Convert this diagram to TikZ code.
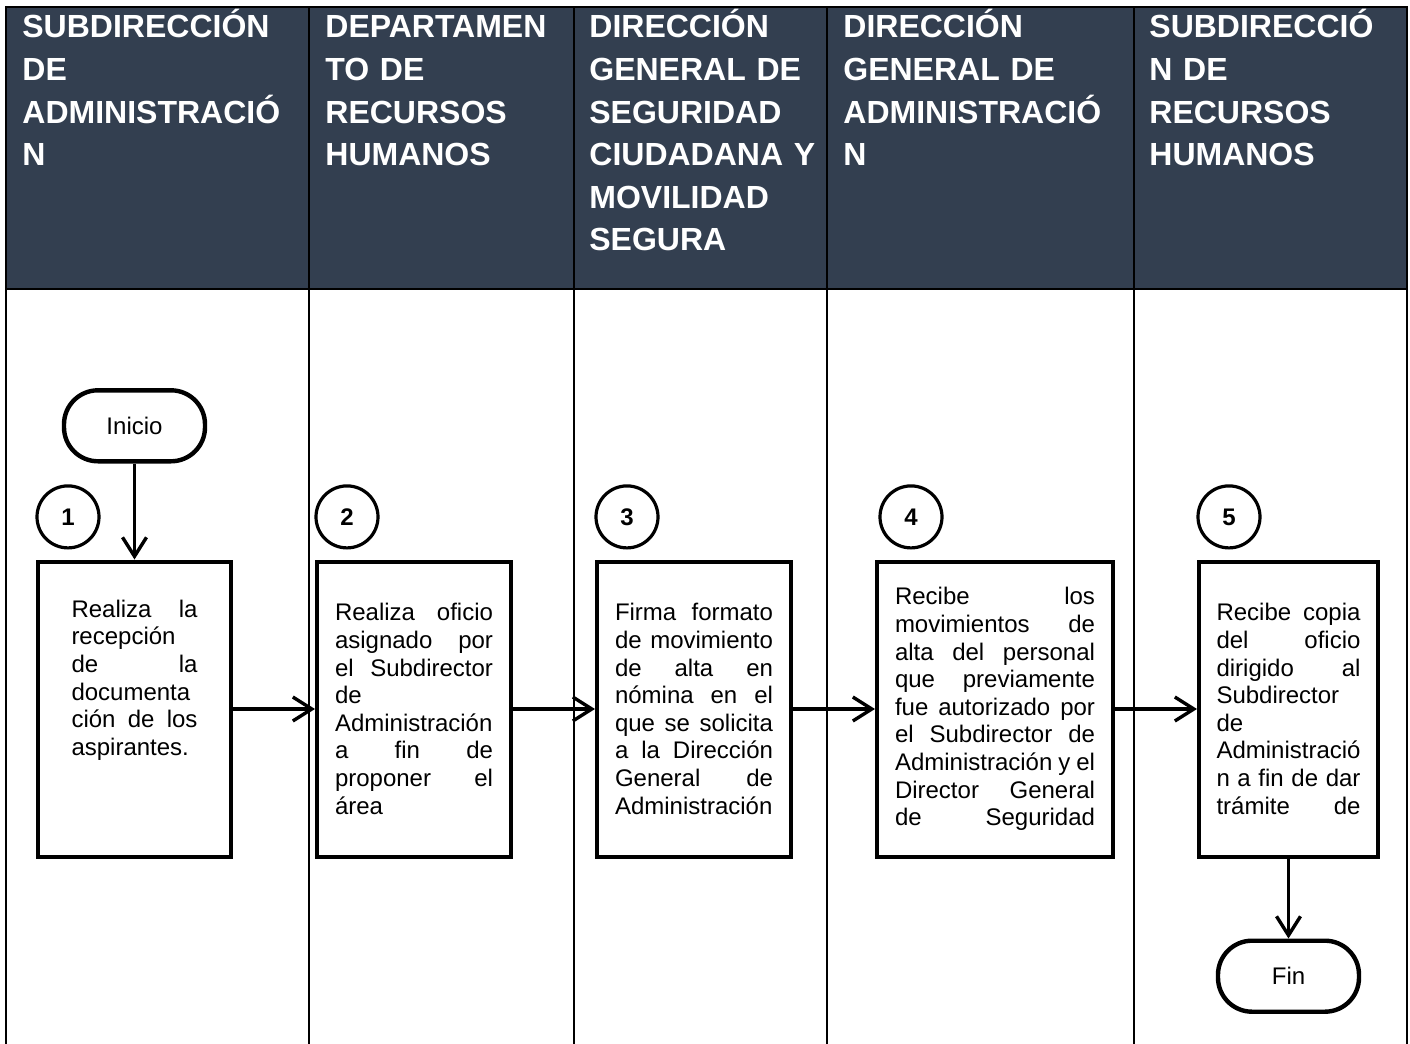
\documentclass[tikz,border=0pt]{standalone}
\usepackage{fontspec}
\setmainfont{Liberation Sans}
\usetikzlibrary{arrows.meta, positioning}
\definecolor{headBlue}{RGB}{51,63,80}
% one justified line / one plain line of a box text
\newcommand\jline[1]{\leavevmode\hbox to\hsize{\spaceskip=.278em plus 1fil minus .06em\relax#1}\par}
\newcommand\pline[1]{\leavevmode\hbox{#1}\par}

\begin{document}
\begin{tikzpicture}[
    x=0.5pt, y=-0.5pt,
    node distance=41pt,
    lane/.style={line width=1pt},
    lanehead/.style={anchor=base west, text width=#1, align=left, inner sep=0pt, text=white, font=\fontsize{16}{21.3}\selectfont\bfseries},
    stepbox/.style n args={2}{rectangle, draw, line width=2pt, minimum width=#1, text width=#2, minimum height=147.5pt, inner sep=0pt, font=\fontsize{12}{13.8}\selectfont},
    endbox/.style={rectangle, draw, line width=2.2pt, rounded corners=17pt, minimum width=70.5pt, minimum height=35.5pt, font=\fontsize{12}{14}\selectfont},
    numcirc/.style={circle, draw, line width=1.6pt, minimum size=31pt, inner sep=0pt, font=\fontsize{12}{14}\selectfont\bfseries},
    flow/.style={line width=1.7pt, -{Straight Barb[length=9.5pt,width=12pt]}}
]
\useasboundingbox (0,0) rectangle (1410,1044);

% lanes
\fill[headBlue] (6,7) rectangle (1407,289);
\draw[lane] (6,1044) -- (6,7) -- (1407,7) -- (1407,1044);
\draw[lane] (6,289) -- (1407,289);
\foreach \x in {309,574,827,1134}
    \draw[lane] (\x,7) -- (\x,1044);

\node[lanehead=135pt] (h1) at (22,38) {SUBDIRECCIÓN\\DE\\ADMINISTRACIÓ\\N};
\node[lanehead=118pt] (h2) at (325,38) {DEPARTAMEN\\TO DE\\RECURSOS\\HUMANOS};
\node[lanehead=118pt] (h3) at (589,38) {DIRECCIÓN\\GENERAL DE\\SEGURIDAD\\CIUDADANA Y\\MOVILIDAD\\SEGURA};
\node[lanehead=135pt] (h4) at (843,38) {DIRECCIÓN\\GENERAL DE\\ADMINISTRACIÓ\\N};
\node[lanehead=125pt] (h5) at (1149,38) {SUBDIRECCIÓ\\N DE\\RECURSOS\\HUMANOS};

% steps
\node[stepbox={96.5pt}{63pt}] (b1) at (134.5,709) {%
    \jline{Realiza la}\jline{recepción}\jline{de la}\jline{documenta}%
    \jline{ción de los}\pline{aspirantes.}\pline{\rule{0pt}{28pt}}};
\node[stepbox={97pt}{79pt}, right=of b1] (b2) {%
    \jline{Realiza oficio}\jline{asignado por}\jline{el Subdirector}\jline{de}%
    \jline{Administración}\jline{a fin de}\jline{proponer el}\pline{área}};
\node[stepbox={97pt}{79pt}, right=of b2] (b3) {%
    \jline{Firma formato}\jline{de movimiento}\jline{de alta en}\jline{nómina en el}%
    \jline{que se solicita}\jline{a la Dirección}\jline{General de}\pline{Administración}};
\node[stepbox={118pt}{100pt}, right=of b3] (b4) {%
    \jline{Recibe los}\jline{movimientos de}\jline{alta del personal}\jline{que previamente}%
    \jline{fue autorizado por}\jline{el Subdirector de}\jline{Administración y el}%
    \jline{Director General}\jline{de Seguridad}};
\node[stepbox={89.5pt}{72pt}, right=of b4] (b5) {%
    \jline{Recibe copia}\jline{del oficio}\jline{dirigido al}\jline{Subdirector}%
    \jline{de}\jline{Administració}\jline{n a fin de dar}\jline{trámite de}};

\node[endbox, above=48pt of b1] (inicio) {Inicio};
\node[endbox, below=40pt of b5] (fin) {Fin};

\node[numcirc, above=5pt of b1.north west, xshift=16pt] (c1) {1};
\node[numcirc, above=5pt of b2.north west, xshift=16pt] (c2) {2};
\node[numcirc, above=5pt of b3.north west, xshift=16pt] (c3) {3};
\node[numcirc, above=5pt of b4.north west, xshift=18pt] (c4) {4};
\node[numcirc, above=5pt of b5.north west, xshift=16pt] (c5) {5};

\draw[flow] (inicio) -- (b1);
\draw[flow] (b1) -- (b2);
\draw[flow] (b2) -- (b3);
\draw[flow] (b3) -- (b4);
\draw[flow] (b4) -- (b5);
\draw[flow] (b5) -- (fin);
\end{tikzpicture}
\end{document}
